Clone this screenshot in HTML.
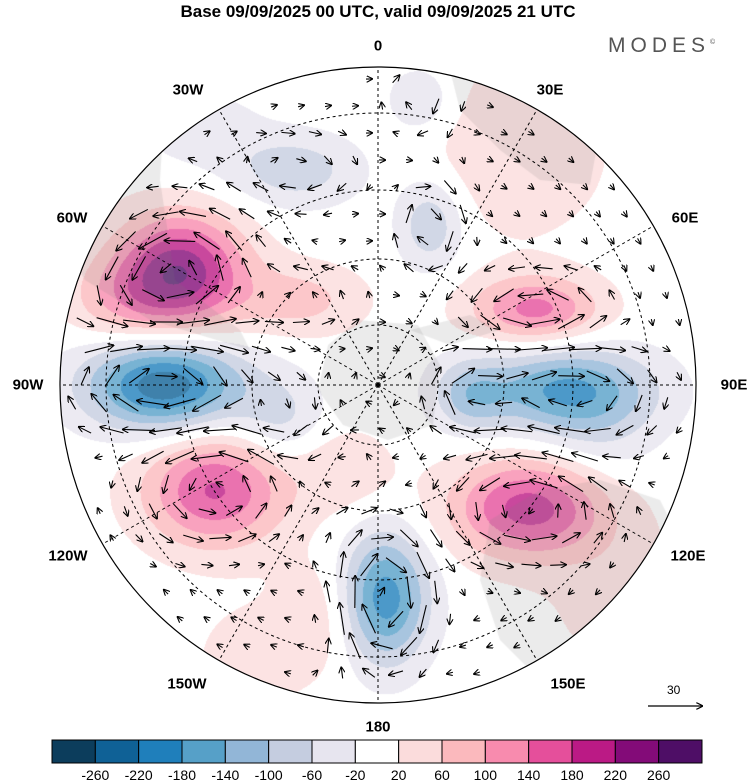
<!DOCTYPE html>
<html><head><meta charset="utf-8"><style>
body{margin:0;background:#fff;width:750px;height:783px;overflow:hidden;font-family:"Liberation Sans",Arial,sans-serif}
#wrap{position:relative;width:750px;height:783px}
.t{position:absolute;font-weight:bold;font-size:15px;color:#000;transform:translate(-50%,-50%);white-space:nowrap}
canvas,svg{position:absolute;left:0;top:0}
</style></head><body>
<div id="wrap">
<div class="t" style="left:378px;top:12px;font-size:17px">Base 09/09/2025 00 UTC, valid 09/09/2025 21 UTC</div>
<div style="position:absolute;left:608px;top:34px;font-size:21px;letter-spacing:5px;color:#555">MODES<sup style="font-size:7px">©</sup></div>
<canvas id="cv" width="750" height="783"></canvas>
<svg id="sv" width="750" height="783"></svg>
<div class="t" style="left:378px;top:46px">0</div>
<div class="t" style="left:550px;top:90px">30E</div>
<div class="t" style="left:685px;top:218px">60E</div>
<div class="t" style="left:734px;top:385px">90E</div>
<div class="t" style="left:688px;top:556px">120E</div>
<div class="t" style="left:568px;top:684px">150E</div>
<div class="t" style="left:378px;top:727px">180</div>
<div class="t" style="left:187px;top:684px">150W</div>
<div class="t" style="left:68px;top:556px">120W</div>
<div class="t" style="left:28px;top:385px">90W</div>
<div class="t" style="left:72px;top:218px">60W</div>
<div class="t" style="left:188px;top:90px">30W</div>
<div style="position:absolute;left:667px;top:683px;font-size:12px">30</div>
</div>
<script>
const blobX=[180,165,215,385,530,565,535,420,295,430,520,300,280,345,320,470,200,600,620,250,120];
const blobY=[272,385,490,598,508,390,310,100,170,225,150,300,420,470,615,395,130,440,600,660,300];
const blobVal=[250,-255,185,-205,200,-185,155,-60,-85,-95,55,75,-70,50,50,-95,-40,-40,40,40,70];
const blobSx=[45,55,50,30,55,60,45,22,45,22,60,45,30,35,30,25,45,40,50,40,40];
const blobSy=[40,32,40,45,35,30,24,22,25,30,60,25,30,30,40,25,30,40,50,40,30];
const levels=[-260,-220,-180,-140,-100,-60,-20,20,60,100,140,180,220,260];
const levelColors=["#0c3d5c","#0f6196","#1f7fbb","#56a0c8","#92b6d7","#c5cde0","#e7e5ef","#ffffff","#fbdcdc","#fbb9bd","#f88bae","#e54f9b","#bb1a85","#830b78","#4e0e66"];
const lonLabels=[0,30,60,90,120,150,180,210,240,270,300,330];
const latRadii=[60,126,195,272];
const CX=378,CY=385,R=318;
function field(x,y){let s=0;for(let i=0;i<blobX.length;i++){const dx=(x-blobX[i])/blobSx[i],dy=(y-blobY[i])/blobSy[i];s+=blobVal[i]*Math.exp(-(dx*dx+dy*dy)/2);}return s;}
function idx(v){let k=Math.floor((v+260)/40)+1;return Math.max(0,Math.min(14,k));}
const cv=document.getElementById('cv'),ctx=cv.getContext('2d');
ctx.save();ctx.beginPath();ctx.arc(CX,CY,R,0,Math.PI*2);ctx.clip();
ctx.globalAlpha=0.8;
const st=1;
for(let y=CY-R;y<CY+R;y+=st)for(let x=CX-R;x<CX+R;x+=st){const c=levelColors[idx(field(x+.5,y+.5))];if(c==="#ffffff")continue;ctx.fillStyle=c;ctx.fillRect(x,y,st,st);}
ctx.globalAlpha=1;
ctx.fillStyle="rgba(120,120,120,0.15)";
const lands=[[[CX-50,CY-40],[CX-20,CY-65],[CX+40,CY-60],[CX+62,CY-20],[CX+55,CY+40],[CX+10,CY+55],[CX-35,CY+40],[CX-60,CY+5]],
[[85,280],[60,240],[100,150],[165,100],[160,180],[175,280],[240,330],[250,350],[150,320]],
[[450,70],[520,80],[600,130],[590,185],[540,180],[500,150],[460,110]],
[[490,520],[540,490],[600,480],[660,500],[680,540],[640,620],[540,680],[500,640],[480,580]],
[[410,330],[470,315],[500,330],[450,345]]];
for(const p of lands){ctx.beginPath();ctx.moveTo(p[0][0],p[0][1]);for(const q of p)ctx.lineTo(q[0],q[1]);ctx.closePath();ctx.fill();}
ctx.restore();
const NS="http://www.w3.org/2000/svg",sv=document.getElementById('sv');
function el(t,a){const e=document.createElementNS(NS,t);for(const k in a)e.setAttribute(k,a[k]);sv.appendChild(e);return e;}
const defs=el('defs',{});
const mk=document.createElementNS(NS,'marker');mk.setAttribute('id','ah');mk.setAttribute('markerWidth','6');mk.setAttribute('markerHeight','6');mk.setAttribute('refX','5');mk.setAttribute('refY','3');mk.setAttribute('orient','auto');
const mp=document.createElementNS(NS,'path');mp.setAttribute('d','M0,0 L6,3 L0,6');mp.setAttribute('fill','none');mp.setAttribute('stroke','#000');mp.setAttribute('stroke-width','1');mk.appendChild(mp);defs.appendChild(mk);
for(const r of latRadii){const c=el('circle',{cx:CX,cy:CY,r:r,fill:'none',stroke:'#000','stroke-width':1,'stroke-dasharray':'3,3'});}
for(const L of lonLabels){const a=L*Math.PI/180;const x2=CX+Math.sin(a)*R,y2=CY-Math.cos(a)*R;const l=el('line',{x1:CX,y1:CY,x2:x2,y2:y2,stroke:'#000','stroke-width':1,'stroke-dasharray':'3,3'});}
for(let y=CY-R+12;y<CY+R;y+=27)for(let x=CX-R+12;x<CX+R;x+=27){
 const xx=x+((Math.floor((y-CY)/27))%2?13:0);
 if((xx-CX)**2+(y-CY)**2>(R-10)**2)continue;
 const h=2,gx=(field(xx+h,y)-field(xx-h,y))/(2*h),gy=(field(xx,y+h)-field(xx,y-h))/(2*h);
 let u=-gy*8,v=gx*8;let m=Math.hypot(u,v);
 if(m<5){const a=Math.atan2(y-CY,xx-CX)+Math.PI/2;u=Math.cos(a)*6;v=Math.sin(a)*6;m=6;}
 if(m>32){u*=32/m;v*=32/m;}
 const ar=el('line',{x1:xx-u/2,y1:y-v/2,x2:xx+u/2,y2:y+v/2,stroke:'#000','stroke-width':1.1,'marker-end':'url(#ah)'});
 
}
const bd=el('circle',{cx:CX,cy:CY,r:R,fill:'none',stroke:'#000','stroke-width':1.2});

const pole=el('circle',{cx:CX,cy:CY,r:2,fill:'#000'});

const rv=el('line',{x1:648,y1:706,x2:702,y2:706,stroke:'#000','stroke-width':1.2,'marker-end':'url(#ah)'});

const bx=52;const nBox=levelColors.length;const bw2=650/nBox;
for(let i=0;i<nBox;i++){const r=el('rect',{x:bx+i*bw2,y:740,width:bw2,height:23,fill:levelColors[i],stroke:'#000','stroke-width':1});}
for(let i=0;i<levels.length;i++){const t=el('text',{x:bx+(i+1)*bw2,y:780,'text-anchor':'middle','font-size':14,'font-family':'Liberation Sans, Arial, sans-serif'});t.textContent=levels[i];}
</script>
</body></html>
